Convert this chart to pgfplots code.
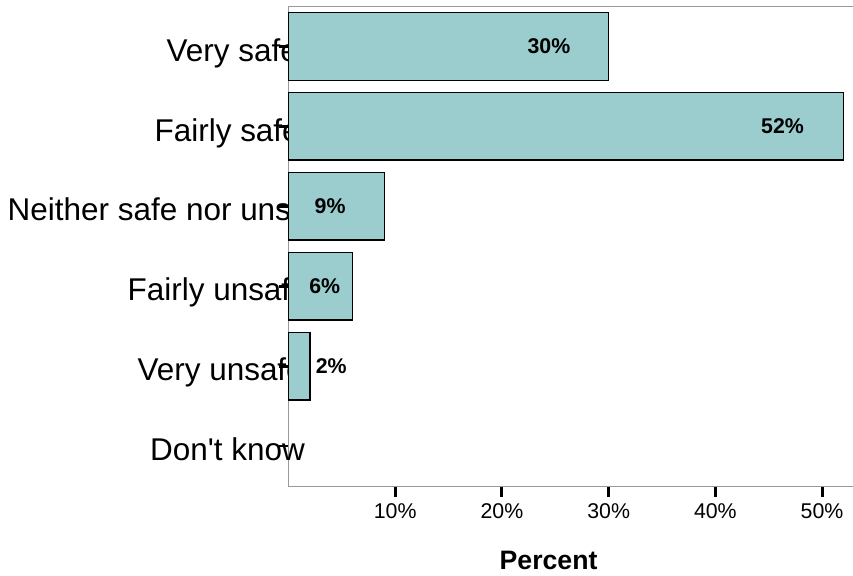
\documentclass[border=0pt]{standalone}
\usepackage{pgfplots}
\pgfplotsset{compat=1.18}
\usepackage{pgfplotstable}
\usepackage{fontspec}
\setmainfont{Liberation Sans}
\definecolor{barfill}{HTML}{9BCDCE}

% tick labels first, then ticks, then the bars over both
\pgfplotsset{
    layers/labelsfirst/.define layer set={
        axis background,axis grid,axis tick labels,axis ticks,axis lines,main,axis descriptions,axis foreground
    }{},
}

% row: category position (Very safe = 5 ... Don't know = 0), percent, label position
\pgfplotstableread{
cat value labx
5   30    24.4
4   52    46.3
3   9     3.9
2   6     3.4
1   2     4.0
}\safety

\begin{document}
\begin{tikzpicture}
\begin{axis}[
    set layers=labelsfirst,
    scale only axis,
    width=425pt, height=360pt,
    xmin=0, xmax=53.1,
    ymin=-0.507, ymax=5.5,
    axis line style={gray!80, line width=0.9pt},
    xtick={10,20,30,40,50},
    xticklabel={\pgfmathprintnumber{\tick}\%},
    ytick={0,1,2,3,4,5},
    yticklabels={Don\textquotesingle t know\kern-1.5pt,Very unsafe\kern-0.75pt,Fairly unsafe\kern-3.75pt,Neither safe nor unsafe\kern-24pt,Fairly safe\kern2.25pt,Very safe\kern3.75pt},
    xtick pos=left, ytick pos=left,
    tick align=outside,
    major tick length=7.5pt,
    major tick style={draw=black, line width=2.2pt},
    xtick style={draw=black, line width=2.2pt},
    ytick style={draw=black, line width=2.2pt},
    /pgf/number format/assume math mode=true,
    xticklabel style={font=\fontsize{16}{18}\selectfont, yshift=-2pt},
    yticklabel style={font=\fontsize{23.6}{26}\selectfont, anchor=base east, inner sep=0pt, xshift=18.4pt, yshift=-11pt},
    xlabel={Percent},
    xlabel style={font=\fontsize{20}{22}\bfseries, at={(axis description cs:0.459,0)}, anchor=base, yshift=-61.9pt},
    clip=false,
]
\addplot[xbar, bar width=0.845, fill=barfill, draw=black, line width=1.1pt] table[x=value, y=cat] {\safety};
\addplot[only marks, mark=none,
    nodes near coords={\pgfmathprintnumber{\pgfplotspointmeta}\%},
    every node near coord/.append style={font=\fontsize{16}{18}\bfseries, anchor=center},
    point meta=explicit] table[x=labx, y=cat, meta=value] {\safety};
\coordinate (bl) at (axis cs:0,-0.507);
\coordinate (tr) at (axis cs:52.9,5.5);
\end{axis}
\pgfresetboundingbox
\path[use as bounding box] ([xshift=-216.4pt,yshift=-67.1pt]bl) rectangle ([yshift=4.9pt]tr);
\end{tikzpicture}
\end{document}
